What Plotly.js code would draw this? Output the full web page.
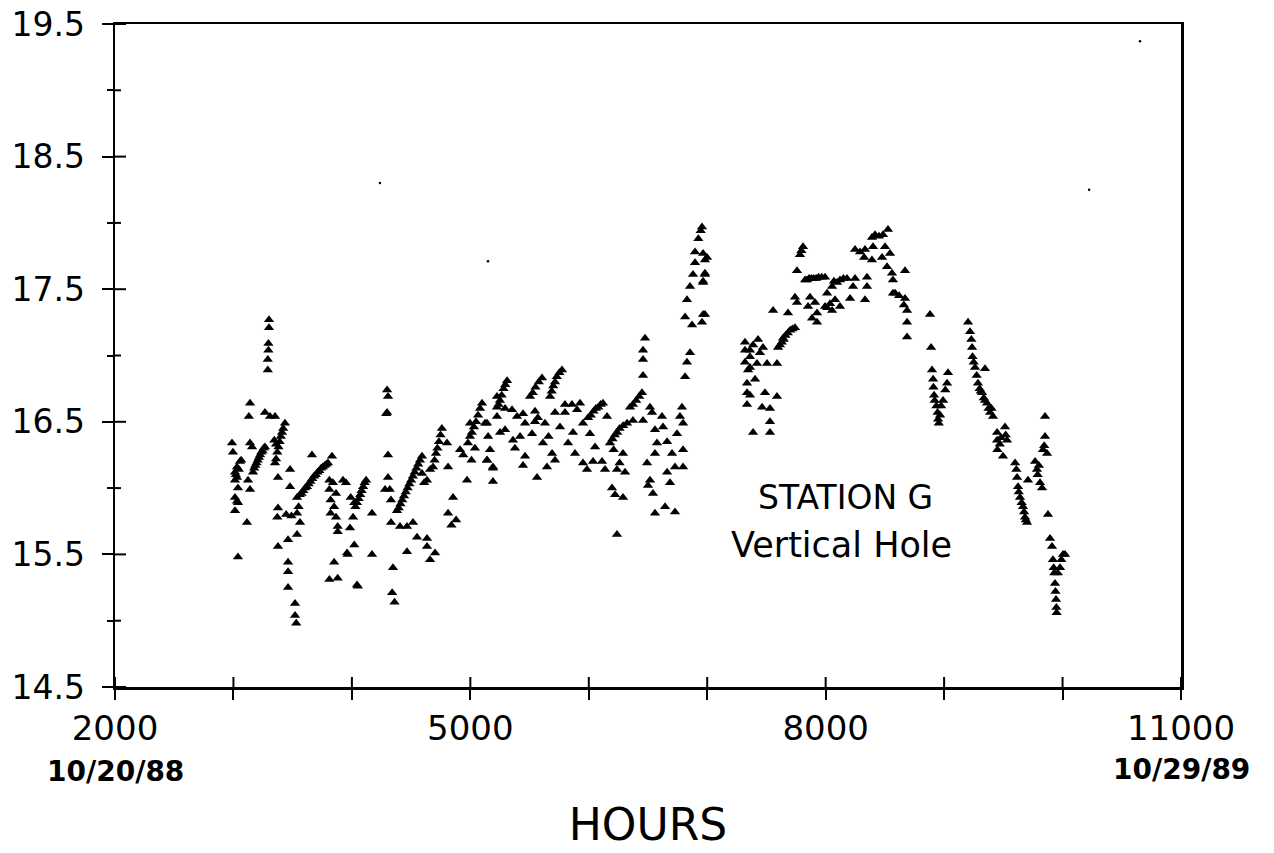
<!DOCTYPE html>
<html>
<head>
<meta charset="utf-8">
<script src="https://cdn.plot.ly/plotly-3.0.1.min.js"></script>
<style>html,body{margin:0;padding:0;background:#fff;}#chart{width:1274px;height:853px;}</style>
</head>
<body>
<div id="chart"></div>
<script>
// ---- Data (hours, value) ----
const hoursA = [2988,2996,3013,3020,3030,3045,3055,3065,3013,3030,3038,3013,3030,3038,3013,3038,3123,3140,3140,3130,3140,3157,3114,3165,3175,3185,3195,3205,3215,3225,3235,3245,3255,3266,3300,3300,3295,3295,3290,3290,3266,3309,3351,3351,3360,3370,3380,3390,3400,3410,3420,3435,3345,3360,3376,3376,3370,3376,3461,3478,3478,3461,3461,3461,3520,3520,3530,3537,3445,3490,3537,3562,3537,3550];
const levelA = [16.34,16.27,16.12,16.10,16.16,16.14,16.20,16.21,16.06,16.08,16.00,15.93,15.90,15.89,15.83,15.48,16.06,15.99,16.64,16.54,16.34,16.31,15.74,16.12,16.15,16.17,16.19,16.21,16.23,16.25,16.27,16.28,16.30,16.31,17.27,17.21,17.09,17.04,16.97,16.89,16.57,16.54,16.54,16.19,16.22,16.27,16.31,16.35,16.39,16.42,16.45,16.49,16.36,16.33,16.08,15.85,15.78,15.56,15.61,16.14,16.01,15.44,15.37,15.25,15.13,15.04,14.98,15.93,15.80,15.79,15.81,15.74,15.65,15.86];

const hoursB = [3560,3575,3590,3605,3620,3635,3650,3665,3680,3695,3710,3725,3740,3755,3770,3785,3798,3663,3832,3810,3840,3810,3866,3820,3850,3820,3866,3880,3810,3880,3850,3880,3925,3950,3990,4020,4010,3984,3959,3965,4043,4050,4020,4043,4057,4070,4082,4095,4108,4120,4030,4170,4170];
const levelB = [15.95,15.96,15.98,16.00,16.01,16.03,16.05,16.07,16.09,16.10,16.12,16.13,16.15,16.16,16.17,16.18,16.19,16.25,16.24,16.06,16.04,15.99,15.96,15.91,15.86,15.81,15.78,15.71,15.31,15.32,15.44,15.67,16.06,16.04,15.93,15.89,15.78,15.70,15.51,15.50,15.27,15.26,15.57,15.89,15.92,15.95,15.98,16.01,16.04,16.06,15.86,15.81,15.50];

const hoursC = [4297,4305,4297,4290,4305,4305,4280,4320,4330,4330,4347,4340,4360,4381,4395,4410,4425,4440,4455,4470,4485,4500,4515,4530,4545,4560,4575,4592,4406,4465,4465,4516,4550,4634,4660,4702,4634,4592,4634,4660,4610,4685,4698,4710,4722,4735,4748,4760,4803,4812,4854,4812,4840,4880,4913,4940,4972,4980,4997,5013,5030,5048,5065,5082,5099,4997,5039,5010,5124,5141,5191,5191,5225];
const levelC = [16.74,16.69,16.57,16.56,16.25,16.08,15.99,15.99,15.91,15.74,15.40,15.21,15.14,15.83,15.85,15.88,15.91,15.94,15.97,16.00,16.03,16.06,16.09,16.12,16.15,16.18,16.21,16.24,15.71,15.71,15.52,15.74,15.63,15.56,15.46,15.51,15.62,16.11,16.06,16.14,16.04,16.16,16.21,16.26,16.30,16.35,16.40,16.45,16.34,16.16,15.93,15.81,15.72,15.76,16.29,16.25,16.06,16.34,16.39,16.42,16.46,16.50,16.55,16.60,16.64,16.49,16.30,16.21,16.49,16.21,16.16,16.05,16.69];

const hoursD = [5141,5150,5166,5141,5191,5225,5238,5250,5265,5280,5295,5310,5293,5225,5251,5352,5394,5445,5293,5377,5462,5462,5445,5360,5420,5504,5527,5550,5578,5605,5521,5546,5563,5613,5647,5546,5570,5673,5687,5700,5715,5730,5752,5774,5715,5690,5715,5757,5799,5799,5660,5630,5825,5858,5901,5926,5884,5951,5985,5867,5951,5994,6017,6040,6060,6080,6100,6120,6010,6053,6036,6112,6137,6154,6179,6200,6220,6240,6260,6290,6323,6196,6222,6289,6306,6238,6289,6238,6210,6260,6348,6373,6400,6425,6449,6373,6458,6458,6458,6475,6458,6517,6534,6559,6576,6559,6492,6517,6500,6542,6559,6618,6627,6661,6644,6661,6703,6686,6728,6728,6787,6770,6796,6796,6796,6745];
const levelD = [16.49,16.39,16.29,16.21,16.15,16.61,16.63,16.66,16.70,16.75,16.78,16.81,16.60,16.54,16.42,16.59,16.54,16.56,16.44,16.30,16.49,16.24,16.17,16.36,16.39,16.69,16.72,16.76,16.80,16.83,16.41,16.50,16.08,16.34,16.16,16.58,16.53,16.69,16.73,16.77,16.80,16.84,16.87,16.89,16.57,16.26,16.21,16.46,16.63,16.57,16.39,16.49,16.34,16.63,16.59,16.64,16.26,16.19,16.14,16.42,16.49,16.53,16.55,16.58,16.60,16.61,16.63,16.64,16.41,16.31,16.20,16.20,16.14,16.54,16.34,16.37,16.40,16.42,16.45,16.47,16.49,16.00,15.95,15.93,16.12,16.14,16.26,15.65,16.29,16.19,16.61,16.63,16.66,16.69,16.72,16.51,16.85,16.97,17.04,17.13,16.51,16.61,16.57,16.44,16.34,16.26,16.19,16.06,16.02,15.96,15.81,16.54,16.46,16.35,15.86,16.12,16.26,16.04,16.16,15.82,16.61,16.54,16.49,16.29,16.16,16.41];

const hoursE = [6813,6855,6829,6813,6872,6956,6981,6829,6855,6880,6965,6981,6897,6998,6897,6925,6945,6956,6965,6981,6981,6965,6965];
const levelE = [16.84,17.02,16.95,17.29,17.23,17.25,17.31,17.42,17.52,17.61,17.55,17.62,17.70,17.74,17.78,17.88,17.94,17.97,17.77,17.72,17.61,17.56,17.31];

const hoursF = [7319,7361,7361,7361,7429,7471,7505,7336,7361,7336,7404,7463,7488,7530,7530,7387,7530,7589,7589,7319,7345,7445,7420,7387,7319,7336,7598,7614,7630,7645,7660,7680,7700,7720,7741,7640,7556,7682,7741,7758,7758,7783,7809,7795,7826,7843,7860,7880,7900,7920,7940,7967,7995,7868,7851,7910,7927,7885,7927,8012,8012,8054,8079,8054,8096,8121,8180,8248,8231,8206,7995,8070,8150,8037,8121,8248,8325,8332,8349,8349,8332,8290,8391,8400,8417,8450,8484,8526,8501,8518,8543,8476,8391,8560,8568,8568,8670,8586,8620,8670,8687,8687,8687,8660];
const levelF = [17.10,17.04,16.99,16.91,17.12,17.06,16.94,16.79,16.70,16.63,16.82,16.61,16.72,16.60,16.50,16.42,16.42,16.69,16.94,16.95,16.89,17.02,16.94,17.08,17.04,16.72,17.06,17.08,17.10,17.12,17.15,17.17,17.19,17.20,17.21,17.13,17.34,17.32,17.44,17.40,17.64,17.76,17.82,17.79,17.57,17.57,17.58,17.58,17.58,17.58,17.59,17.59,17.59,17.44,17.37,17.40,17.32,17.28,17.25,17.47,17.36,17.52,17.42,17.34,17.55,17.57,17.58,17.58,17.52,17.43,17.37,17.56,17.58,17.39,17.37,17.80,17.74,17.80,17.52,17.59,17.42,17.78,17.89,17.82,17.91,17.90,17.91,17.95,17.82,17.67,17.77,17.74,17.72,17.62,17.57,17.47,17.64,17.47,17.45,17.43,17.34,17.25,17.14,17.38];

const hoursG = [8881,8890,8898,8907,8910,8915,8920,8935,8945,8949,8955,8966,8975,8991,9010,9025,9033];
const levelG = [17.31,17.06,16.89,16.82,16.76,16.70,16.66,16.62,16.57,16.52,16.49,16.55,16.62,16.66,16.74,16.79,16.87];

const hoursH = [9202,9219,9230,9236,9240,9250,9261,9275,9286,9300,9310,9320,9335,9345,9362,9375,9388,9413,9345,9400,9447,9447,9450,9514,9531,9497,9470,9480,9520,9599,9616,9624,9641,9666,9683,9700,9610,9630,9655,9675,9690,9708,9768,9784,9810,9835,9852,9852,9869,9827,9790,9800,9845,9877,9894,9911,9919,9925,9930,9936,9940,9945,9948,9950,10004,9979,9960,9990,10021];
const levelH = [17.25,17.18,17.12,17.06,16.99,16.95,16.91,16.85,16.79,16.75,16.73,16.72,16.68,16.66,16.64,16.60,16.57,16.54,16.90,16.60,16.42,16.36,16.29,16.46,16.36,16.24,16.33,16.38,16.40,16.19,16.08,16.01,15.93,15.86,15.78,15.74,16.14,15.97,15.89,15.82,15.76,16.06,16.20,16.14,16.04,16.29,16.39,16.54,16.26,16.00,16.10,16.17,16.32,15.80,15.62,15.56,15.46,15.40,15.36,15.28,15.22,15.16,15.10,15.06,15.50,15.40,15.36,15.46,15.50];

// stray specks on the scanned sheet
const speckHours = [4237,5149,10224,10654];
const speckLevel = [18.30,17.71,18.25,19.37];

// axes
const xTickVals = [2000,3000,4000,5000,6000,7000,8000,9000,10000,11000];
const xTickText = ['2000','','','5000','','','8000','','','11000'];
const yTickVals = [14.5,15.5,16.5,17.5,18.5,19.5];
const yTickText = ['14.5','15.5','16.5','17.5','18.5','19.5'];
const yMinorVals = [15,16,17,18,19];
const dateLabels = ['10/20/88','10/29/89'];
const dateHours = [2000,11000];

const hours = [].concat(hoursA,hoursB,hoursC,hoursD,hoursE,hoursF,hoursG,hoursH);
const level = [].concat(levelA,levelB,levelC,levelD,levelE,levelF,levelG,levelH);

const FONT = 'DejaVu Sans, Arial, sans-serif';

const traces = [
  {x: hours, y: level, type: 'scatter', mode: 'markers',
   marker: {symbol: 'triangle-up', size: 9, color: '#000'}, hoverinfo: 'x+y', showlegend: false},
  {x: speckHours, y: speckLevel, type: 'scatter', mode: 'markers',
   marker: {symbol: 'circle', size: 2.5, color: '#000'}, hoverinfo: 'skip', showlegend: false}
];

// inner halves of the crossing tick marks (the outer halves are the axes' own ticks)
const tickLine = {color: '#000', width: 2};
const innerTicks = []
  .concat(xTickVals.map(v => ({type: 'line', layer: 'above', xref: 'x', yref: 'paper', x0: v, x1: v, y0: 0, y1: 0.0151, line: tickLine})))
  .concat(yTickVals.map(v => ({type: 'line', layer: 'above', xref: 'paper', yref: 'y', x0: 0, x1: 0.0103, y0: v, y1: v, line: tickLine})))
  .concat(yMinorVals.map(v => ({type: 'line', layer: 'above', xref: 'paper', yref: 'y', x0: 0, x1: 0.0056, y0: v, y1: v, line: tickLine})));

const axCommon = {showgrid: false, zeroline: false, tickcolor: '#000', tickwidth: 2};

const layout = {
  width: 1274, height: 853,
  margin: {l: 115, r: 93, t: 24, b: 166},
  paper_bgcolor: '#fff', plot_bgcolor: '#fff',
  showlegend: false,
  font: {family: FONT, color: '#000'},
  xaxis: Object.assign({}, axCommon, {
    range: [2000, 11000], tickmode: 'array', tickvals: xTickVals, ticktext: xTickText,
    ticks: 'outside', ticklen: 10, showline: true, linecolor: '#000', linewidth: 2.5, mirror: true,
    tickfont: {family: FONT, size: 34, color: '#000'}, ticklabelstandoff: 0,
    title: {text: 'HOURS', font: {family: FONT, size: 44, color: '#000'}, standoff: 62}
  }),
  yaxis: Object.assign({}, axCommon, {
    range: [14.5, 19.5], tickmode: 'array', tickvals: yTickVals, ticktext: yTickText,
    ticks: 'outside', ticklen: 11, showline: true, linecolor: '#000', linewidth: 2.5, mirror: true,
    tickfont: {family: FONT, size: 33, color: '#000'}, ticklabelstandoff: 10,
    minor: {tickmode: 'array', tickvals: yMinorVals, ticks: 'outside', ticklen: 6, tickwidth: 2, tickcolor: '#000', showgrid: false}
  }),
  shapes: innerTicks,
  annotations: [
    {x: dateHours[0], y: -0.128, xref: 'x', yref: 'paper', text: '<b>' + dateLabels[0] + '</b>', showarrow: false,
     font: {family: FONT, size: 28, color: '#000'}, xanchor: 'center', yanchor: 'middle'},
    {x: dateHours[1], y: -0.125, xref: 'x', yref: 'paper', text: '<b>' + dateLabels[1] + '</b>', showarrow: false,
     font: {family: FONT, size: 28, color: '#000'}, xanchor: 'center', yanchor: 'middle'},
    {x: 8165, y: 15.93, xref: 'x', yref: 'y', text: 'STATION G', showarrow: false,
     font: {family: FONT, size: 33, color: '#000'}, xanchor: 'center', yanchor: 'middle'},
    {x: 8135, y: 15.57, xref: 'x', yref: 'y', text: 'Vertical Hole', showarrow: false,
     font: {family: FONT, size: 35, color: '#000'}, xanchor: 'center', yanchor: 'middle'}
  ]
};

Plotly.newPlot('chart', traces, layout, {displayModeBar: false, staticPlot: true});
</script>
</body>
</html>
